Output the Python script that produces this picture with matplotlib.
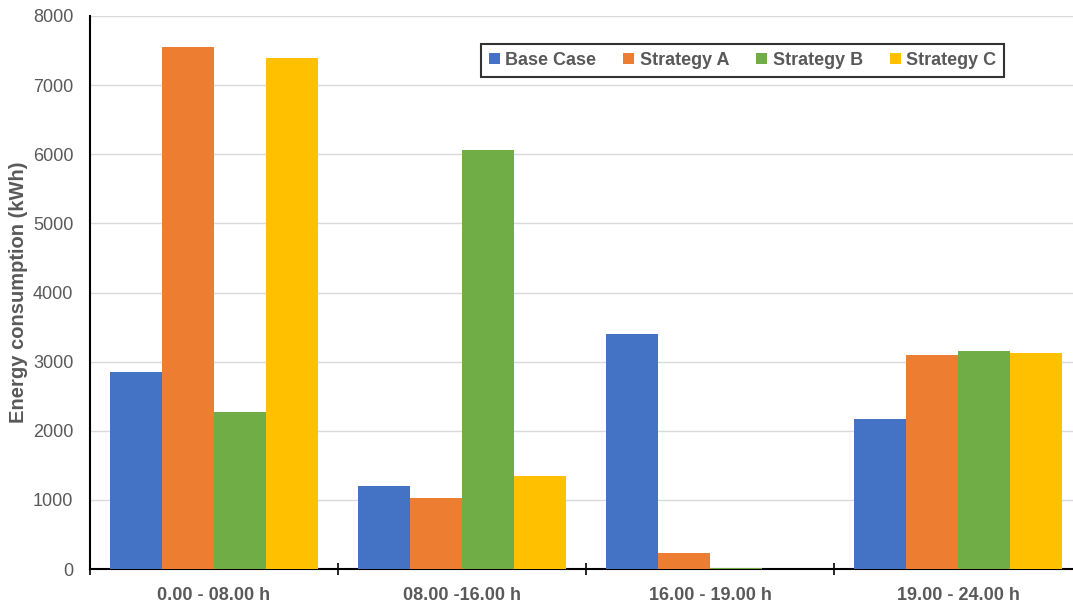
import numpy as np
import matplotlib.pyplot as plt

plt.rcParams['font.family'] = ['Liberation Sans', 'DejaVu Sans']

periods = ['0.00 - 08.00 h', '08.00 -16.00 h', '16.00 - 19.00 h', '19.00 - 24.00 h']
base_case = [2855, 1200, 3400, 2170]
strategy_a = [7555, 1025, 230, 3095]
strategy_b = [2270, 6065, 20, 3150]
strategy_c = [7395, 1345, 0, 3125]

series = [('Base Case', base_case, '#4472C4'),
          ('Strategy A', strategy_a, '#ED7D31'),
          ('Strategy B', strategy_b, '#70AD47'),
          ('Strategy C', strategy_c, '#FFC000')]

fig = plt.figure(figsize=(10.73, 6.02), dpi=100)
ax = fig.add_axes([90 / 1073, 33 / 602, 992 / 1073, 553 / 602])

x = np.arange(len(periods))
w = 0.21
for i, (name, vals, col) in enumerate(series):
    ax.bar(x + (i - 1.5) * w, vals, w, color=col, label=name, zorder=3)

ax.set_xlim(-0.5, 3.5)
ax.set_ylim(0, 8000)
ax.set_yticks(range(0, 8001, 1000))
ax.yaxis.grid(True, color='#D9D9D9', lw=1, zorder=0)

ax.set_xticks(x)
ax.set_xticklabels(periods, fontsize=13, fontweight='bold', color='#595959')
ax.tick_params(axis='x', length=0, pad=13)
ax.set_xticks(np.arange(-0.5, 4, 1), minor=True)
ax.tick_params(axis='x', which='minor', length=8, width=1.2, direction='inout', color='black')
ax.tick_params(axis='y', length=0, labelsize=13, labelcolor='#595959', pad=12)

for s in ['top', 'right']:
    ax.spines[s].set_visible(False)
for s in ['left', 'bottom']:
    ax.spines[s].set_linewidth(1.5)
    ax.spines[s].set_color('black')

ax.set_ylabel('Energy consumption (kWh)', fontsize=14.5, fontweight='bold', color='#595959')
ax.yaxis.set_label_coords(-0.063, 0.5)

leg = ax.legend(ncol=4, loc='upper left', bbox_to_anchor=(391 / 992, 0.95),
                frameon=True, fancybox=False, edgecolor='black',
                prop={'weight': 'bold', 'size': 13}, handlelength=0.6, handleheight=0.6,
                handletextpad=0.3, columnspacing=1.5, borderpad=0.45, borderaxespad=0)
leg.get_frame().set_linewidth(1.5)
for t in leg.get_texts():
    t.set_color('#595959')

fig.savefig('out.png', dpi=100)
